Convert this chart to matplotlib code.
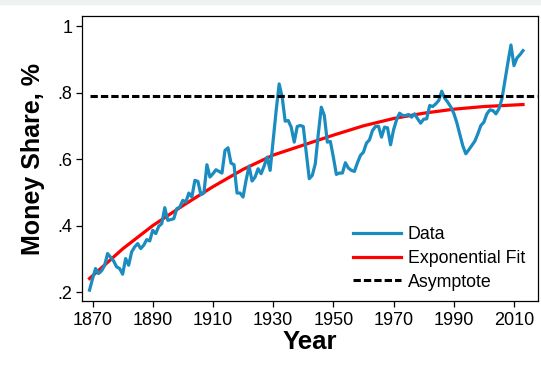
import numpy as np
import matplotlib
matplotlib.use('Agg')
import matplotlib.pyplot as plt
from matplotlib.patches import Rectangle

plt.rcParams['font.family'] = ['Liberation Sans', 'DejaVu Sans']

# money share data, one value per year
years = list(range(1869, 2014))
share = [
    0.206, 0.240, 0.271, 0.256, 0.264, 0.280, 0.316, 0.305, 0.294, 0.276,  # 1869-1878
    0.271, 0.254, 0.301, 0.281, 0.321, 0.336, 0.346, 0.331, 0.341, 0.358,  # 1879-1888
    0.354, 0.386, 0.376, 0.398, 0.406, 0.454, 0.416, 0.418, 0.421, 0.451,  # 1889-1898
    0.456, 0.476, 0.471, 0.498, 0.486, 0.536, 0.533, 0.493, 0.498, 0.583,  # 1899-1908
    0.546, 0.556, 0.568, 0.563, 0.558, 0.626, 0.634, 0.588, 0.583, 0.498,  # 1909-1918
    0.498, 0.486, 0.536, 0.579, 0.534, 0.546, 0.571, 0.556, 0.579, 0.606,  # 1919-1928
    0.566, 0.656, 0.746, 0.826, 0.786, 0.714, 0.716, 0.696, 0.651, 0.698,  # 1929-1938
    0.701, 0.698, 0.620, 0.541, 0.551, 0.586, 0.676, 0.756, 0.731, 0.651,  # 1939-1948
    0.653, 0.606, 0.554, 0.558, 0.558, 0.589, 0.573, 0.566, 0.563, 0.589,  # 1949-1958
    0.611, 0.621, 0.648, 0.658, 0.686, 0.698, 0.699, 0.666, 0.696, 0.694,  # 1959-1968
    0.643, 0.688, 0.718, 0.738, 0.731, 0.731, 0.734, 0.726, 0.736, 0.721,  # 1969-1978
    0.708, 0.720, 0.721, 0.761, 0.758, 0.766, 0.776, 0.804, 0.783, 0.771,  # 1979-1988
    0.757, 0.738, 0.710, 0.675, 0.640, 0.616, 0.628, 0.641, 0.654, 0.676,  # 1989-1998
    0.701, 0.711, 0.736, 0.748, 0.746, 0.736, 0.751, 0.781, 0.836, 0.891,  # 1999-2008
    0.943, 0.881, 0.904, 0.914, 0.926,                                     # 2009-2013
]

# exponential fit
fit_years = [1869, 1880, 1890, 1900, 1910, 1920, 1930, 1940, 1950, 1960, 1970, 1980, 1990, 2000, 2013]
fit_vals = [0.241, 0.330, 0.400, 0.460, 0.517, 0.569, 0.612, 0.642, 0.672, 0.700, 0.722, 0.738, 0.750, 0.758, 0.764]

asym_years = [1869, 2017.5]
asym_val = 0.791

xticks = [1870, 1890, 1910, 1930, 1950, 1970, 1990, 2010]
yticks = [0.2, 0.4, 0.6, 0.8, 1.0]
ytick_labels = ['.2', '.4', '.6', '.8', '1']

fig = plt.figure(figsize=(5.41, 3.65), dpi=100)
fig.patches.append(Rectangle((0, 0.989), 1, 0.011, transform=fig.transFigure,
                             color='#eef2f2', zorder=0))
ax = fig.add_axes([0.151, 0.175, 0.843, 0.781])

ax.plot(years, share, color='#1a8cbf', lw=2.3, label='Data', zorder=3)
ax.plot(fit_years, fit_vals, color='#ff0000', lw=2.3, label='Exponential Fit', zorder=2)
ax.plot(asym_years, [asym_val, asym_val], color='black', lw=2.2, dashes=(2.4, 1.0),
        label='Asymptote', zorder=4)

ax.set_xlim(1866.4, 2017.9)
ax.set_ylim(0.173, 1.03)
ax.set_xticks(xticks)
ax.set_yticks(yticks)
ax.set_yticklabels(ytick_labels)
ax.tick_params(axis='both', direction='out', length=4.5, width=0.9, labelsize=13, pad=2)
ax.tick_params(axis='x', pad=3)

for s in ax.spines.values():
    s.set_linewidth(0.9)

ax.set_xlabel('Year', fontsize=18.5, fontweight='bold', labelpad=1)
ax.set_ylabel('Money Share, %', fontsize=18, fontweight='bold', labelpad=9)

ax.legend(loc='upper left', bbox_to_anchor=(0.594, 0.262), frameon=False, fontsize=12.8,
          handlelength=2.7, handletextpad=0.4, labelspacing=0.37, borderpad=0, borderaxespad=0)

plt.savefig('out.png', dpi=100)
